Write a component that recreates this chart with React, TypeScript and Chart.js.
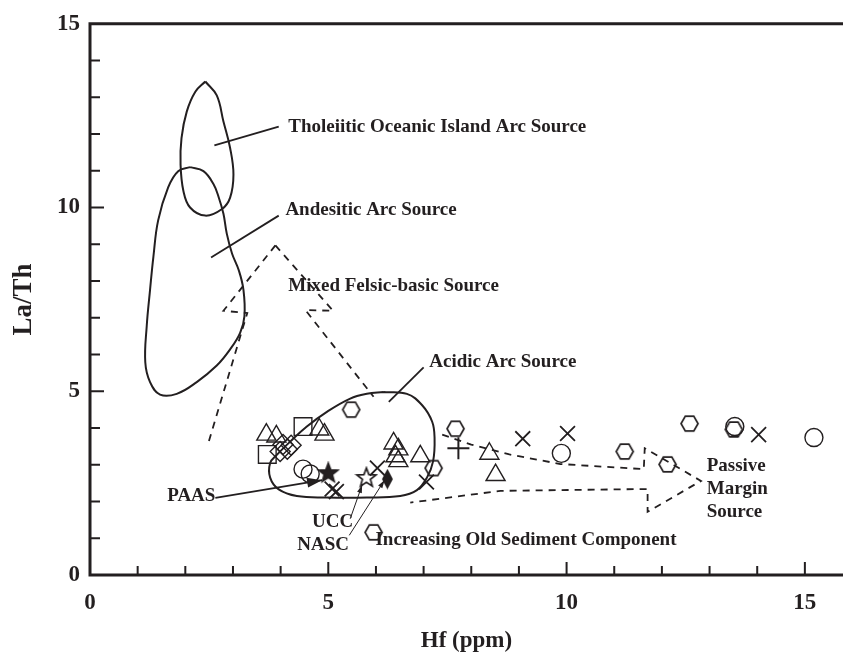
import React, { useEffect, useRef } from "react";
import { Chart, registerables } from "chart.js";

Chart.register(...registerables);

const INK = "#231f20";
const FONT = '"Liberation Serif", "Times New Roman", serif';

// ---- axes ----
const xAxisTitle = "Hf (ppm)";
const yAxisTitle = "La/Th";
const xRange = [0, 15.8];
const yRange = [0, 15];
const xTickLabels = [0, 5, 10, 15];
const yTickLabels = [0, 5, 10, 15];
const minorStep = 1;

// ---- samples (Hf ppm, La/Th) ----
const hexagonPts = [
  [5.48, 4.5], [7.21, 2.91], [5.95, 1.16], [7.67, 3.98],
  [11.22, 3.36], [12.12, 3.01], [12.58, 4.12], [13.51, 3.96],
];
const circlePts = [[4.47, 2.88], [4.62, 2.75], [9.89, 3.31], [13.53, 4.04], [15.19, 3.74]];
const trianglePts = [
  [3.7, 3.82], [3.91, 3.77], [4.81, 3.96], [4.92, 3.82],
  [6.37, 3.58], [6.47, 3.42], [6.41, 3.23], [6.47, 3.1], [6.93, 3.23],
  [8.38, 3.3], [8.51, 2.72],
];
const squarePts = [[4.47, 4.04], [3.72, 3.28]];
const diamondPts = [[4.05, 3.55], [4.14, 3.42], [3.99, 3.36], [4.22, 3.53]];
const crossPts = [[5.08, 2.34], [5.17, 2.27], [6.03, 2.91], [7.06, 2.53], [9.08, 3.71], [10.02, 3.85], [14.03, 3.82]];
const plusPts = [[7.73, 3.45]];
const paasPt = [[5.0, 2.77]];
const uccPt = [[5.8, 2.64]];
const nascPt = [[6.24, 2.61]];

// ---- source fields ----
const tholeiiticField = [
  [2.42, 13.43], [2.66, 13.05], [2.8, 12.34], [2.94, 11.62], [3.01, 10.9], [2.94, 10.27],
  [2.77, 9.96], [2.42, 9.78], [2.1, 10.0], [1.96, 10.45], [1.9, 11.17], [1.92, 11.89],
  [2.03, 12.61], [2.21, 13.15], [2.42, 13.43],
];
const andesiticField = [
  [2.1, 11.1], [2.38, 10.99], [2.59, 10.64], [2.7, 10.28], [2.8, 9.83], [2.87, 9.29],
  [2.98, 8.75], [3.12, 8.3], [3.22, 7.76], [3.24, 7.04], [3.15, 6.59], [2.94, 6.14],
  [2.66, 5.7], [2.24, 5.25], [1.82, 4.93], [1.47, 4.91], [1.26, 5.25], [1.16, 5.79],
  [1.19, 6.77], [1.26, 7.76], [1.33, 8.66], [1.43, 9.65], [1.64, 10.55], [1.85, 10.99], [2.1, 11.1],
];
const acidicField = [
  [6.16, 4.98], [6.65, 4.93], [6.97, 4.62], [7.18, 4.17], [7.23, 3.72], [7.2, 3.1],
  [7.07, 2.65], [6.86, 2.31], [6.51, 2.15], [5.81, 2.11], [4.97, 2.11], [4.34, 2.15],
  [3.96, 2.33], [3.78, 2.65], [3.78, 3.05], [3.92, 3.27], [4.2, 3.63], [4.55, 4.04],
  [4.97, 4.44], [5.46, 4.8], [5.81, 4.93], [6.16, 4.98],
];
const felsicLeft = [[3.89, 8.97], [2.8, 7.19], [3.3, 7.13], [2.48, 3.58]];
const felsicRight = [[3.89, 8.97], [5.1, 7.19], [4.52, 7.21], [5.95, 4.85]];
const passiveMargin = [
  [7.39, 3.82], [8.0, 3.55], [8.8, 3.28], [9.87, 3.02], [11.62, 2.88], [11.64, 3.45],
  [12.82, 2.56], [11.7, 1.72], [11.7, 2.34], [8.61, 2.29], [6.72, 1.97],
];
const leaderLines = [
  [[2.61, 11.69], [3.96, 12.2]],
  [[2.54, 8.64], [3.96, 9.78]],
  [[6.27, 4.71], [7.0, 5.65]],
];
const refArrows = [
  [[2.63, 2.1], [4.87, 2.58]],
  [[5.46, 1.53], [5.71, 2.45]],
  [[5.44, 1.08], [6.18, 2.58]],
];

// ---- annotation texts and their anchors (left edge, middle) ----
const labelTexts = [
  "Tholeiitic Oceanic Island Arc Source",
  "Andesitic Arc Source",
  "Mixed Felsic-basic Source",
  "Acidic Arc Source",
  "PAAS",
  "UCC",
  "NASC",
  "Increasing Old Sediment Component",
  "Passive",
  "Margin",
  "Source",
];
const labelAnchors = [
  [4.16, 12.19], [4.1, 9.93], [4.16, 7.86], [7.12, 5.79], [1.62, 2.15],
  [4.66, 1.45], [4.35, 0.81], [5.99, 0.94], [12.94, 2.96], [12.94, 2.34], [12.94, 1.7],
];

const toXY = (arr: number[][]) => arr.map(([x, y]) => ({ x, y }));

function makeCanvas(size: number, draw: (c: CanvasRenderingContext2D, m: number) => void) {
  const cv = document.createElement("canvas");
  cv.width = size;
  cv.height = size;
  const c = cv.getContext("2d")!;
  c.strokeStyle = INK;
  c.fillStyle = INK;
  c.lineWidth = 1.7;
  c.lineJoin = "miter";
  draw(c, size / 2);
  return cv;
}
function hexagonIcon(r: number) {
  return makeCanvas(Math.ceil(2 * r + 4), (c, m) => {
    c.beginPath();
    for (let i = 0; i < 6; i++) {
      const a = (Math.PI / 3) * i;
      const px = m + r * Math.cos(a);
      const py = m + r * Math.sin(a);
      if (i === 0) c.moveTo(px, py);
      else c.lineTo(px, py);
    }
    c.closePath();
    c.stroke();
  });
}
function starIcon(ro: number, ri: number, filled: boolean) {
  return makeCanvas(Math.ceil(2 * ro + 4), (c, m) => {
    c.beginPath();
    for (let i = 0; i < 10; i++) {
      const a = -Math.PI / 2 + (Math.PI / 5) * i;
      const r = i % 2 === 0 ? ro : ri;
      const px = m + r * Math.cos(a);
      const py = m + r * Math.sin(a);
      if (i === 0) c.moveTo(px, py);
      else c.lineTo(px, py);
    }
    c.closePath();
    if (filled) c.fill();
    c.stroke();
  });
}
function narrowDiamondIcon(w: number, h: number) {
  return makeCanvas(Math.ceil(h + 4), (c, m) => {
    c.beginPath();
    c.moveTo(m, m - h / 2);
    c.lineTo(m + w / 2, m);
    c.lineTo(m, m + h / 2);
    c.lineTo(m - w / 2, m);
    c.closePath();
    c.fill();
    c.stroke();
  });
}

const axesPlugin = {
  id: "frameAxes",
  afterDraw(chart: any) {
    const { ctx, chartArea: a, scales } = chart;
    const xs = scales.x;
    const ys = scales.y;
    ctx.save();
    ctx.strokeStyle = INK;
    ctx.lineWidth = 2;
    ctx.beginPath();
    for (let v = yRange[0] + minorStep; v < yRange[1]; v += minorStep) {
      const py = ys.getPixelForValue(v);
      const len = v % 5 === 0 ? 14 : 10;
      ctx.moveTo(a.left, py);
      ctx.lineTo(a.left + len, py);
    }
    for (let v = xRange[0] + minorStep; v <= xRange[1]; v += minorStep) {
      const px = xs.getPixelForValue(v);
      const len = v % 5 === 0 ? 13 : 9;
      ctx.moveTo(px, a.bottom);
      ctx.lineTo(px, a.bottom - len);
    }
    ctx.stroke();
    ctx.lineWidth = 3;
    ctx.lineCap = "square";
    ctx.beginPath();
    ctx.moveTo(a.right + 2, a.top);
    ctx.lineTo(a.left, a.top);
    ctx.lineTo(a.left, a.bottom);
    ctx.lineTo(a.right + 2, a.bottom);
    ctx.stroke();
    ctx.restore();
  },
};

const annotationPlugin = {
  id: "annotations",
  afterDatasetsDraw(chart: any) {
    const { ctx, scales } = chart;
    const xs = scales.x;
    const ys = scales.y;
    ctx.save();
    ctx.fillStyle = INK;
    ctx.strokeStyle = INK;
    refArrows.forEach(([from, to], i) => {
      const x0 = xs.getPixelForValue(from[0]);
      const y0 = ys.getPixelForValue(from[1]);
      const x1 = xs.getPixelForValue(to[0]);
      const y1 = ys.getPixelForValue(to[1]);
      const ang = Math.atan2(y1 - y0, x1 - x0);
      const len = i === 0 ? 15 : 8;
      const half = i === 0 ? 5 : 2.5;
      ctx.beginPath();
      ctx.moveTo(x1, y1);
      ctx.lineTo(x1 - len * Math.cos(ang) + half * Math.sin(ang), y1 - len * Math.sin(ang) - half * Math.cos(ang));
      ctx.lineTo(x1 - len * Math.cos(ang) - half * Math.sin(ang), y1 - len * Math.sin(ang) + half * Math.cos(ang));
      ctx.closePath();
      ctx.fill();
    });
    ctx.font = `bold 19px ${FONT}`;
    ctx.textAlign = "left";
    ctx.textBaseline = "middle";
    labelTexts.forEach((t, i) => {
      const [lx, ly] = labelAnchors[i];
      ctx.fillText(t, xs.getPixelForValue(lx), ys.getPixelForValue(ly));
    });
    ctx.restore();
  },
};

export default function App() {
  const ref = useRef<HTMLCanvasElement | null>(null);

  useEffect(() => {
    const canvas = ref.current;
    if (!canvas) return;
    const hexImg = hexagonIcon(8.5);
    const starFilled = starIcon(10, 4.2, true);
    const starOpen = starIcon(10, 4.2, false);
    const nascImg = narrowDiamondIcon(9, 17);

    const marker = (data: number[][], style: any, radius: number, bw = 1.4) => ({
      data: toXY(data),
      pointStyle: style,
      pointRadius: radius,
      pointBorderWidth: bw,
      pointBorderColor: INK,
      pointBackgroundColor: "rgba(0,0,0,0)",
      borderColor: INK,
      showLine: false,
    });
    const line = (data: number[][], opts: any = {}) => ({
      data: toXY(data),
      showLine: true,
      pointRadius: 0,
      borderColor: INK,
      borderWidth: 2,
      fill: false,
      tension: 0,
      ...opts,
    });

    const datasets: any[] = [
      marker(paasPt, starFilled, 10),
      marker(uccPt, starOpen, 10),
      marker(nascPt, nascImg, 9),
      marker(hexagonPts, hexImg, 9),
      marker(circlePts, "circle", 9),
      marker(trianglePts, "triangle", 11),
      marker(squarePts, "rect", 12.5),
      marker(diamondPts, "rectRot", 10),
      marker(crossPts, "crossRot", 10.5, 1.8),
      marker(plusPts, "cross", 11, 2),
      line(tholeiiticField, { tension: 0.4 }),
      line(andesiticField, { tension: 0.4 }),
      line(acidicField, { tension: 0.4 }),
      line(felsicLeft, { borderDash: [7, 6], borderWidth: 1.8 }),
      line(felsicRight, { borderDash: [7, 6], borderWidth: 1.8 }),
      line(passiveMargin, { borderDash: [7, 6], borderWidth: 1.8 }),
      ...leaderLines.map((l) => line(l, { borderWidth: 1.8 })),
      ...refArrows.map((l, i) => line(l, { borderWidth: i === 0 ? 1.8 : 1 })),
    ];

    const tickFont = { family: FONT, size: 23, weight: "bold" as const };
    const xTitleFont = { family: FONT, size: 23, weight: "bold" as const };
    const yTitleFont = { family: FONT, size: 27, weight: "bold" as const };
    const chart = new Chart(canvas, {
      type: "scatter",
      data: { datasets },
      options: {
        animation: false,
        responsive: false,
        devicePixelRatio: 1,
        layout: { autoPadding: false, padding: { top: 18, right: 0, left: 0, bottom: 0 } },
        plugins: { legend: { display: false }, tooltip: { enabled: false } },
        scales: {
          x: {
            type: "linear",
            min: xRange[0],
            max: xRange[1],
            grid: { display: false, drawTicks: false },
            border: { display: false },
            afterBuildTicks: (s: any) => {
              s.ticks = xTickLabels.map((v) => ({ value: v }));
            },
            afterFit: (s: any) => {
              s.height = 83;
            },
            ticks: { font: tickFont, color: INK, padding: 14, maxRotation: 0, autoSkip: false },
            title: { display: true, text: xAxisTitle, font: xTitleFont, color: INK, padding: { top: 0, bottom: 3 } },
          },
          y: {
            type: "linear",
            min: yRange[0],
            max: yRange[1],
            grid: { display: false, drawTicks: false },
            border: { display: false },
            afterBuildTicks: (s: any) => {
              s.ticks = yTickLabels.map((v) => ({ value: v }));
            },
            afterFit: (s: any) => {
              s.width = 90;
            },
            ticks: { font: tickFont, color: INK, padding: 10, autoSkip: false },
            title: { display: true, text: yAxisTitle, font: yTitleFont, color: INK, padding: { top: 8, bottom: 0 } },
          },
        },
      },
      plugins: [axesPlugin, annotationPlugin],
    });
    return () => chart.destroy();
  }, []);

  return (
    <div style={{ position: "absolute", left: 0, top: 0, width: 843, height: 658, background: "#fff" }}>
      <canvas ref={ref} width={843} height={658} style={{ display: "block" }} />
    </div>
  );
}
